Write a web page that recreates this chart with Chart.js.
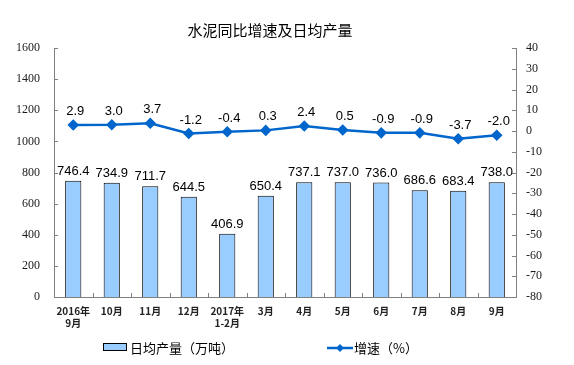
<!DOCTYPE html>
<html><head><meta charset="utf-8">
<script src="https://cdn.jsdelivr.net/npm/chart.js@4"></script>
<style>html,body{margin:0;padding:0;background:#fff}#wrap{width:574px;height:365px;position:relative}</style>
</head><body><div id="wrap"><canvas id="c" width="574" height="365"></canvas></div>
<script>
const title = "水泥同比增速及日均产量";
const categories = [["2016年","9月"],"10月","11月","12月",["2017年","1-2月"],"3月","4月","5月","6月","7月","8月","9月"];
const dailyOutput = [746.4,734.9,711.7,644.5,406.9,650.4,737.1,737.0,736.0,686.6,683.4,738.0];
const growth = [2.9,3.0,3.7,-1.2,-0.4,0.3,2.4,0.5,-0.9,-0.9,-3.7,-2.0];
const barLabel = "日均产量（万吨）";
const lineLabel = "增速（%）";

const serif = "'Times New Roman','Liberation Serif',serif";
const cjk = "Noto Sans CJK SC";
const sans = "'Liberation Sans',Arial,sans-serif";

const deco = {
  id:'deco',
  afterDatasetsDraw(chart){
    const ctx = chart.ctx, a = chart.chartArea;
    const x = chart.scales.x, y = chart.scales.y, y1 = chart.scales.y1;
    ctx.save();
    ctx.strokeStyle = '#808080'; ctx.lineWidth = 1;
    ctx.beginPath();
    y.ticks.forEach(t=>{const py=Math.round(y.getPixelForValue(t.value))+0.5; ctx.moveTo(a.left,py); ctx.lineTo(a.left+4,py);});
    y1.ticks.forEach(t=>{const py=Math.round(y1.getPixelForValue(t.value))+0.5; ctx.moveTo(a.right,py); ctx.lineTo(a.right-4,py);});
    for(let i=1;i<categories.length;i++){
      const px=Math.round((x.getPixelForValue(i-1)+x.getPixelForValue(i))/2)+0.5;
      ctx.moveTo(px,a.bottom); ctx.lineTo(px,a.bottom-4);
    }
    ctx.stroke();
    const m0 = chart.getDatasetMeta(0);
    ctx.fillStyle = '#000'; ctx.font = "13px "+sans; ctx.textAlign='center'; ctx.textBaseline='bottom';
    m0.data.forEach((el,i)=>{ctx.fillText(dailyOutput[i].toFixed(1), el.x, el.y-3);});
    const m1 = chart.getDatasetMeta(1);
    ctx.font = "13px "+sans;
    m1.data.forEach((el,i)=>{ctx.fillText(growth[i].toFixed(1), el.x+2, el.y-7);});
    ctx.font = "15px '"+cjk+"'"; ctx.textBaseline='middle'; ctx.fillStyle='#000';
    ctx.fillText(title, 270, 30);
    ctx.fillStyle='#99CCFF'; ctx.strokeStyle='#000'; ctx.lineWidth=1;
    ctx.fillRect(103.5,343.5,23,7); ctx.strokeRect(103.5,343.5,23,7);
    ctx.fillStyle='#000'; ctx.font="13px '"+cjk+"'"; ctx.textAlign='left';
    ctx.fillText(barLabel, 130, 348);
    ctx.strokeStyle='#0066CC'; ctx.lineWidth=2.5;
    ctx.beginPath(); ctx.moveTo(327,348); ctx.lineTo(353,348); ctx.stroke();
    ctx.fillStyle='#0066CC';
    ctx.beginPath(); ctx.moveTo(340,344); ctx.lineTo(344,348); ctx.lineTo(340,352); ctx.lineTo(336,348); ctx.closePath(); ctx.fill();
    ctx.fillStyle='#000';
    ctx.fillText(lineLabel, 354, 348);
    ctx.restore();
  }
};

new Chart(document.getElementById('c'), {
  data:{
    labels: categories,
    datasets:[
      {type:'bar', label:barLabel, data:dailyOutput, yAxisID:'y', backgroundColor:'#99CCFF', borderColor:'#000', borderWidth:1, barPercentage:0.42, categoryPercentage:1, order:2},
      {type:'line', label:lineLabel, data:growth, yAxisID:'y1', borderColor:'#0066CC', backgroundColor:'#0066CC', borderWidth:2.5, pointStyle:'rectRot', pointRadius:4, pointHoverRadius:4, tension:0, order:1}
    ]
  },
  options:{
    responsive:false, animation:false, devicePixelRatio:1,
    layout:{padding:{top:48,left:0,right:0,bottom:0}},
    plugins:{legend:{display:false}, tooltip:{enabled:false}, title:{display:false}},
    scales:{
      x:{
        grid:{display:false, drawTicks:false},
        border:{color:'#808080'},
        ticks:{font:{family:cjk,size:10,weight:'bold'}, color:'#222', padding:8, maxRotation:0, autoSkip:false},
        afterFit(s){s.height=68;}
      },
      y:{
        position:'left', min:0, max:1600,
        grid:{display:false, drawTicks:false},
        border:{color:'#808080'},
        ticks:{stepSize:200, font:{family:serif,size:12}, color:'#1a1a1a', padding:14, callback:v=>String(v)},
        afterFit(s){s.width=54;}
      },
      y1:{
        position:'right', min:-80, max:40,
        grid:{display:false, drawTicks:false},
        border:{color:'#808080'},
        ticks:{stepSize:10, font:{family:serif,size:12}, color:'#1a1a1a', padding:10, callback:v=>String(v)},
        afterFit(s){s.width=58;}
      }
    }
  },
  plugins:[deco]
});
</script></body></html>
